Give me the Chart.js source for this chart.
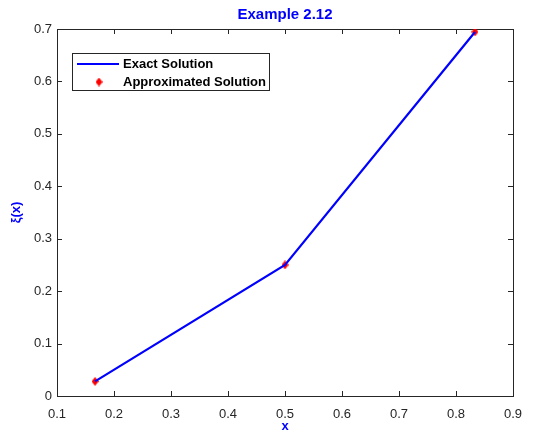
<!DOCTYPE html>
<html>
<head>
<meta charset="utf-8">
<script src="https://cdn.jsdelivr.net/npm/chart.js@4/dist/chart.umd.min.js"></script>
<style>
  html, body { margin: 0; padding: 0; background: #fff; }
  #wrap { width: 534px; height: 441px; }
</style>
</head>
<body>
<div id="wrap"><canvas id="myChart" width="534" height="441"></canvas></div>
<script>
// values
const xValues = [0.1667, 0.5, 0.8333];
const exactValues = [0.0278, 0.25, 0.6944];
const approxValues = [0.0278, 0.25, 0.6944];
const xTicks = [0.1, 0.2, 0.3, 0.4, 0.5, 0.6, 0.7, 0.8, 0.9];
const yTicks = [0, 0.1, 0.2, 0.3, 0.4, 0.5, 0.6, 0.7];
const titleText = 'Example 2.12';
const xTitle = 'x';
const yTitle = 'ξ(x)';
const seriesNames = ['Exact Solution', 'Approximated Solution'];

const axisColor = '#262626';
const blue = '#0000ff';
const red = '#ff0000';
const fontFamily = '"Liberation Sans", Arial, Helvetica, sans-serif';

// slim diamond marker like matlab's 'd'
function makeDiamond(w, h, color) {
    const c = document.createElement('canvas');
    c.width = w; c.height = h;
    const g = c.getContext('2d');
    g.fillStyle = color;
    g.beginPath();
    g.moveTo(w / 2, 0);
    g.lineTo(w, h / 2);
    g.lineTo(w / 2, h);
    g.lineTo(0, h / 2);
    g.closePath();
    g.fill();
    return c;
}
const diamond = makeDiamond(7, 9, red);

const boxPlugin = {
    id: 'matlabBox',
    beforeDatasetsDraw(chart) {
        const {ctx, chartArea: a, scales} = chart;
        ctx.save();
        ctx.strokeStyle = axisColor;
        ctx.lineWidth = 1;
        ctx.strokeRect(a.left + 0.5, a.top + 0.5, a.right - a.left, a.bottom - a.top);
        ctx.beginPath();
        xTicks.forEach(v => {
            const px = Math.round(scales.x.getPixelForValue(v)) + 0.5;
            ctx.moveTo(px, a.bottom); ctx.lineTo(px, a.bottom - 5);
            ctx.moveTo(px, a.top); ctx.lineTo(px, a.top + 5);
        });
        yTicks.forEach(v => {
            const py = Math.round(scales.y.getPixelForValue(v)) + 0.5;
            ctx.moveTo(a.left, py); ctx.lineTo(a.left + 5, py);
            ctx.moveTo(a.right, py); ctx.lineTo(a.right - 5, py);
        });
        ctx.stroke();
        ctx.restore();
    },
    afterDraw(chart) {
        const {ctx, chartArea: a} = chart;
        ctx.save();
        // title
        ctx.fillStyle = blue;
        ctx.font = 'bold 15px ' + fontFamily;
        ctx.textAlign = 'center';
        ctx.textBaseline = 'middle';
        ctx.fillText(titleText, (a.left + a.right) / 2, 15);

        // legend
        const lx = 72, ly = 53, lw = 197, lh = 37;
        ctx.fillStyle = '#fff';
        ctx.fillRect(lx, ly, lw, lh);
        ctx.strokeStyle = axisColor;
        ctx.lineWidth = 1;
        ctx.strokeRect(lx + 0.5, ly + 0.5, lw, lh);
        ctx.strokeStyle = blue;
        ctx.lineWidth = 2.2;
        ctx.beginPath();
        ctx.moveTo(77, 64); ctx.lineTo(119, 64);
        ctx.stroke();
        ctx.drawImage(diamond, 99 - 3.5, 82 - 4.5);
        ctx.fillStyle = '#000';
        ctx.font = 'bold 13px ' + fontFamily;
        ctx.textAlign = 'left';
        ctx.fillText(seriesNames[0], 123, 64);
        ctx.fillText(seriesNames[1], 123, 82);
        ctx.restore();
    }
};

const ctx = document.getElementById('myChart').getContext('2d');
const myChart = new Chart(ctx, {
    type: 'line',
    data: {
        datasets: [{
            label: seriesNames[0],
            data: xValues.map((x, i) => ({x: x, y: exactValues[i]})),
            borderColor: blue,
            borderWidth: 2.2,
            pointRadius: 0,
            fill: false,
            tension: 0
        }, {
            label: seriesNames[1],
            data: xValues.map((x, i) => ({x: x, y: approxValues[i]})),
            showLine: false,
            pointStyle: diamond,
            pointRadius: 4,
            borderColor: red,
            backgroundColor: red
        }]
    },
    options: {
        responsive: false,
        animation: false,
        layout: { padding: { top: 29, right: 21, left: 0, bottom: 0 } },
        plugins: {
            legend: { display: false },
            title: { display: false },
            tooltip: { enabled: false }
        },
        scales: {
            x: {
                type: 'linear',
                min: 0.1,
                max: 0.9,
                afterFit: s => { s.height = 45; },
                afterBuildTicks: s => { s.ticks = xTicks.map(v => ({value: v})); },
                grid: { display: false, drawTicks: false },
                border: { display: false },
                ticks: {
                    padding: 11,
                    color: axisColor,
                    font: { family: fontFamily, size: 13 },
                    maxRotation: 0,
                    callback: v => String(+v.toFixed(1))
                },
                title: {
                    display: true,
                    text: xTitle,
                    color: blue,
                    font: { family: fontFamily, size: 13, weight: 'bold' },
                    padding: { top: 0, bottom: 7 }
                }
            },
            y: {
                type: 'linear',
                min: 0,
                max: 0.7,
                afterFit: s => { s.width = 57; },
                afterBuildTicks: s => { s.ticks = yTicks.map(v => ({value: v})); },
                grid: { display: false, drawTicks: false },
                border: { display: false },
                ticks: {
                    padding: 5,
                    color: axisColor,
                    font: { family: fontFamily, size: 13 },
                    callback: v => String(+v.toFixed(1))
                },
                title: {
                    display: true,
                    text: yTitle,
                    color: blue,
                    font: { family: fontFamily, size: 13, weight: 'bold' },
                    padding: { top: 9, bottom: 0 }
                }
            }
        }
    },
    plugins: [boxPlugin]
});
</script>
</body>
</html>
